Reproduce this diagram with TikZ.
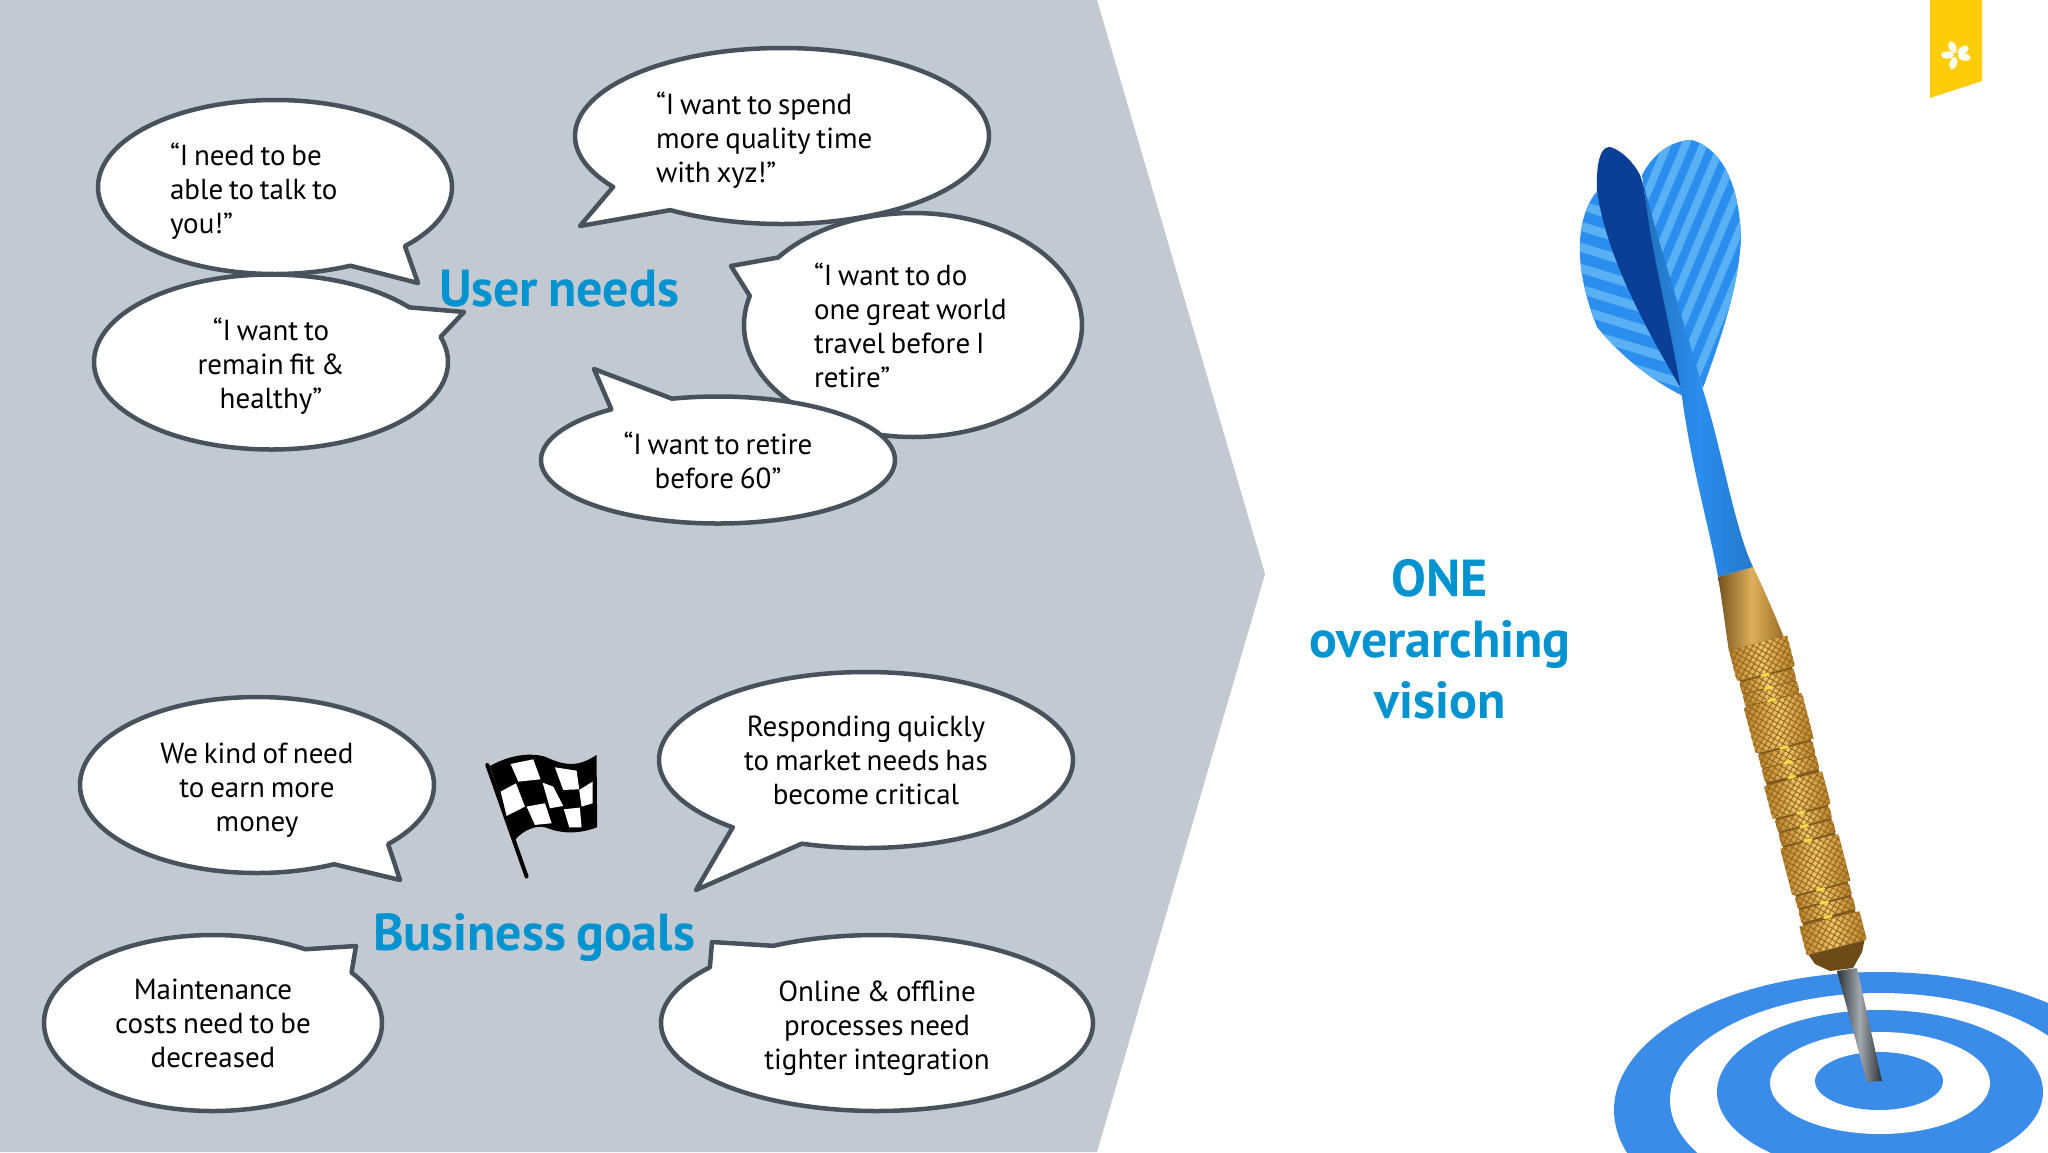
\documentclass[tikz,border=0pt]{standalone}
\usepackage{fontspec}
\setmainfont[WordSpace=0.75]{PT Sans}
\usetikzlibrary{shapes.callouts, patterns.meta}
\definecolor{panelgrey}{HTML}{C3C9D0}
\definecolor{bubbleline}{HTML}{47525C}
\definecolor{headblue}{HTML}{0093D0}
\definecolor{ribbon}{HTML}{FFCC0A}
\definecolor{ringblue}{HTML}{3A8CE8}
\definecolor{finlight}{HTML}{2A8EEE}
\definecolor{finstripe}{HTML}{5AB0F5}
\definecolor{findark}{HTML}{0B3F96}
\definecolor{goldlight}{HTML}{F0C470}
\definecolor{golddark}{HTML}{B47E2A}
\definecolor{knurl}{HTML}{94651A}
\newcommand{\lowline}{\rule{0pt}{31pt}}
\tikzstyle{bubble} = [ellipse callout, draw=bubbleline, fill=white, line width=4.5pt, line join=round, callout pointer arc=22, inner sep=0pt, font=\fontsize{29}{34}\selectfont]
\tikzstyle{heading} = [headblue, font=\fontsize{52}{61}\selectfont\bfseries, align=center, inner sep=0pt]
\begin{document}
\begin{tikzpicture}[x=1pt,y=-1pt]
\useasboundingbox (0,0) rectangle (2048,1152);
\path [fill=white] (0,0) rectangle (2048,1152);
\path [fill=panelgrey] (0,0) -- (1097,0) -- (1265,574) -- (1097,1152) -- (0,1152) -- cycle;

% user needs
\node [bubble, minimum width=354pt, minimum height=174pt, text width=210pt, align=flush left, callout absolute pointer={(418,283)}] (talk) at (275,187) {\lowline “I need to be\\able to talk to\\you!”};
\node [bubble, minimum width=354pt, minimum height=175pt, align=center, callout absolute pointer={(464,312)}] (fit) at (271,362) {\lowline “I want to\\remain fit \&\\healthy”};
\node [bubble, minimum width=414pt, minimum height=176pt, text width=252pt, align=flush left, callout absolute pointer={(580,226)}] (spend) at (782,136) {\lowline “I want to spend\\more quality time\\with xyz!”};
\node [bubble, minimum width=338pt, minimum height=224pt, text width=198pt, align=flush left, callout absolute pointer={(731,266)}] (travel) at (913,325) {“I want to do\\one great world\\travel before I\\retire”};
\node [bubble, minimum width=354pt, minimum height=127pt, align=center, callout absolute pointer={(594,369)}] (retire) at (718,460) {“I want to retire\\before 60”};
\node [heading] (users) at (559,289) {User needs};

% business goals
\node [bubble, minimum width=354pt, minimum height=176pt, align=center, callout absolute pointer={(400,880)}] (earn) at (257,785) {\lowline We kind of need\\to earn more\\money};
\node [bubble, minimum width=414pt, minimum height=176pt, align=center, callout absolute pointer={(696,890)}] (market) at (866,760) {Responding quickly\\to market needs has\\become critical};
\node [bubble, minimum width=338pt, minimum height=176pt, align=center, callout absolute pointer={(356,946)}] (costs) at (213,1023) {Maintenance\\costs need to be\\decreased};
\node [bubble, minimum width=432pt, minimum height=176pt, align=center, callout absolute pointer={(712,942)}] (online) at (877,1023) {\lowline Online \& offline\\processes need\\tighter integration};
\node [heading] (goals) at (534,938) {Business goals};

% flag
\begin{scope}[shift={(470,740)},x=0.333pt,y=-0.333pt]
\draw [line width=4pt, line cap=round] (52,75) -- (170,410);
\fill (60,78) .. controls (110,50) and (170,35) .. (225,50) .. controls (280,75) and (320,85) .. (380,45) -- (382,262) .. controls (320,285) and (270,280) .. (225,262) .. controls (200,255) and (160,270) .. (135,300) -- cycle;
\foreach \xa/\ya/\xb/\yb/\xc/\yc/\xd/\yd in {122/72/190/58/212/118/145/125, 92/155/138/130/165/200/110/228, 218/128/250/140/280/198/240/205, 255/82/320/92/328/148/280/150, 170/200/225/190/245/250/195/255, 282/208/330/203/335/262/298/262, 328/150/368/125/368/190/335/200}
  \fill [white] (\xa,\ya) -- (\xb,\yb) -- (\xc,\yc) -- (\xd,\yd) -- cycle;
\end{scope}

\node [heading] (vision) at (1440,639) {ONE\\overarching\\vision};

% ribbon
\fill [ribbon] (1930,0) -- (1982,0) -- (1982,81) -- (1930,98) -- cycle;
\foreach \petal in {24,-56,-103,-198,-270}
  \fill [white, rotate around={\petal:(1956,55)}] (1956,46.5) ellipse (3.6pt and 6.5pt);

% target
\begin{scope}
\clip (0,0) rectangle (2048,1152);
\fill [ringblue] (1880,1110) ellipse (266pt and 138pt);
\fill [white] (1880,1100) ellipse (210pt and 107pt);
\fill [ringblue] (1880,1092) ellipse (163pt and 82pt);
\fill [white] (1880,1083) ellipse (110pt and 51pt);
\fill [ringblue] (1879,1081) ellipse (64pt and 29pt);
\end{scope}

% tip and collar
\shade [left color=bubbleline!60!black, right color=bubbleline!60!black, middle color=bubbleline!50!white] (1837,971) -- (1857,968) -- (1882,1081) -- (1867,1082) -- cycle;
\fill [golddark!60!black] (1808,954) -- (1865,938) -- (1862,952) -- (1853,968) -- (1830,971) -- (1815,964) -- cycle;

% gold neck
\shade [left color=golddark!65!black, right color=golddark!85!black, middle color=goldlight!70!golddark] (1718,577) -- (1753,567) .. controls (1762,585) and (1775,615) .. (1785,640) -- (1729,652) .. controls (1725,625) and (1722,600) .. (1718,577) -- cycle;

% fins
\begin{scope}
\clip (1598,190) .. controls (1576,215) and (1572,265) .. (1597,327) .. controls (1620,355) and (1650,380) .. (1685,397) -- (1660,250) -- cycle;
\fill [finlight] (1570,180) rectangle (1700,400);
\foreach \i in {0,...,11}
  \draw [finstripe, line width=9pt] (1570,160+\i*21) -- (1700,200+\i*21);
\end{scope}
\fill [findark] (1613,148) .. controls (1600,142) and (1596,165) .. (1597,190) .. controls (1605,250) and (1640,320) .. (1682,390) -- (1675,333) .. controls (1665,280) and (1655,220) .. (1640,175) .. controls (1632,160) and (1622,152) .. (1613,148) -- cycle;
\begin{scope}
\clip (1642,175) .. controls (1655,150) and (1675,140) .. (1692,140) .. controls (1725,150) and (1740,190) .. (1741,240) .. controls (1738,290) and (1720,340) .. (1703,388) -- (1682,327) .. controls (1670,290) and (1650,240) .. (1642,175) -- cycle;
\fill [finlight] (1630,130) rectangle (1750,400);
\foreach \i in {0,...,11}
  \draw [finstripe, line width=8pt] (1560+\i*18,400) -- (1680+\i*18,115);
\end{scope}
\shade [left color=finlight!80!black, right color=finlight!85!black, middle color=finlight] (1644,185) .. controls (1650,250) and (1670,320) .. (1682,397) .. controls (1692,470) and (1710,530) .. (1718,577) -- (1753,567) .. controls (1735,530) and (1722,450) .. (1703,390) .. controls (1690,340) and (1660,250) .. (1644,185) -- cycle;

% barrel
\begin{scope}[shift={(1758,643)},rotate=14.5,yscale=1.055]
\fill [golddark!70!black] (-27,0) rectangle (27,298);
\foreach \va/\vb/\hw in {0/30/30, 32/43/28, 44/55/28, 56/101/30, 103/116/28, 117/130/28, 133/165/30, 167/178/28, 180/192/28, 194/240/30, 242/253/28, 255/267/28, 270/298/31} {
  \shade [left color=golddark, right color=golddark, middle color=goldlight, rounded corners=2pt] (-\hw,\va) rectangle (\hw,\vb);
  \begin{scope}
  \clip (-\hw,\va) rectangle (\hw,\vb);
  \fill [pattern={Lines[angle=60,distance=5pt,line width=0.9pt]}, pattern color=knurl] (-\hw,\va) rectangle (\hw,\vb);
  \fill [pattern={Lines[angle=-30,distance=5pt,line width=0.9pt]}, pattern color=knurl] (-\hw,\va) rectangle (\hw,\vb);
  \end{scope}
}
\foreach \vb in {31,43.5,55.5,102,116.5,131,166,179,193,241,254,268}
  \fill [goldlight!60!yellow] (-1,\vb) ellipse (5pt and 1.5pt);
\end{scope}
\end{tikzpicture}
\end{document}
